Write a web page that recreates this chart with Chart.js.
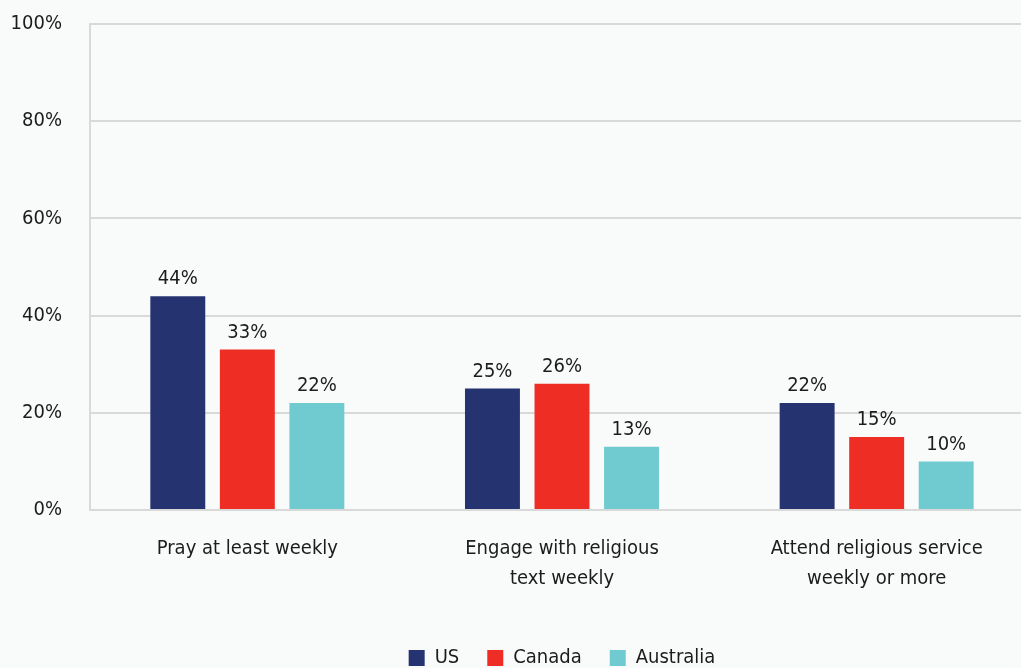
<!DOCTYPE html>
<html>
<head>
<meta charset="utf-8">
<script src="https://cdn.jsdelivr.net/npm/chart.js@4/dist/chart.umd.min.js"></script>
<style>
  html, body { margin: 0; padding: 0; background: #f9fafa; overflow: hidden; }
  #wrap { width: 1034px; height: 668px; position: relative; }
</style>
</head>
<body>
<div id="wrap"><canvas id="chart"></canvas></div>
<script>
// weekly religious practice by country
const categories = [
  ['Pray at least weekly'],
  ['Engage with religious', 'text weekly'],
  ['Attend religious service', 'weekly or more']
];
const usValues = [44, 25, 22];
const canadaValues = [33, 26, 15];
const australiaValues = [22, 13, 10];
const yTicks = [0, 20, 40, 60, 80, 100];

const FONT = "'Liberation Sans Narrow', 'DejaVu Sans Condensed', 'Roboto', sans-serif";
const TEXT = '#1c1c1c';
const GRID = '#d9d9d9';

// value labels above each bar
const barLabels = {
  id: 'barLabels',
  afterDatasetsDraw(chart) {
    const ctx = chart.ctx;
    ctx.save();
    ctx.font = '20px ' + FONT;
    ctx.fillStyle = TEXT;
    ctx.textAlign = 'center';
    ctx.textBaseline = 'bottom';
    chart.data.datasets.forEach((ds, i) => {
      chart.getDatasetMeta(i).data.forEach((bar, j) => {
        ctx.fillText(ds.data[j] + '%', bar.x, bar.y - 7);
      });
    });
    ctx.restore();
  }
};

new Chart(document.getElementById('chart'), {
  type: 'bar',
  data: {
    labels: categories,
    datasets: [
      { label: 'US', data: usValues, backgroundColor: '#253370' },
      { label: 'Canada', data: canadaValues, backgroundColor: '#ee2e24' },
      { label: 'Australia', data: australiaValues, backgroundColor: '#6fcbd0' }
    ]
  },
  options: {
    responsive: true,
    maintainAspectRatio: false,
    animation: false,
    categoryPercentage: 0.663,
    barPercentage: 0.79,
    layout: { padding: { top: 0, left: 0, right: 0, bottom: -10 } },
    plugins: {
      legend: {
        position: 'bottom',
        fullSize: false,
        labels: {
          font: { family: FONT, size: 20 },
          color: TEXT,
          boxWidth: 16,
          boxHeight: 16,
          padding: 28
        }
      },
      tooltip: { enabled: false }
    },
    scales: {
      x: {
        grid: { display: false },
        border: { display: false },
        afterFit(axis) { axis.height += 10; },
        ticks: { font: { family: FONT, size: 20, lineHeight: 1.5 }, color: TEXT, padding: 16, maxRotation: 0 }
      },
      y: {
        min: 0,
        max: 100,
        afterBuildTicks(axis) { axis.ticks = yTicks.map(v => ({ value: v })); },
        afterFit(axis) {
          axis.width = 90;
          axis.paddingTop = 24;
          axis.paddingBottom = 0;
        },
        grid: { color: GRID, lineWidth: 2, drawTicks: false },
        border: { color: GRID, width: 2 },
        ticks: {
          font: { family: FONT, size: 20 },
          color: TEXT,
          padding: 28,
          callback: v => v + '%'
        }
      }
    }
  },
  plugins: [barLabels]
});
</script>
</body>
</html>
